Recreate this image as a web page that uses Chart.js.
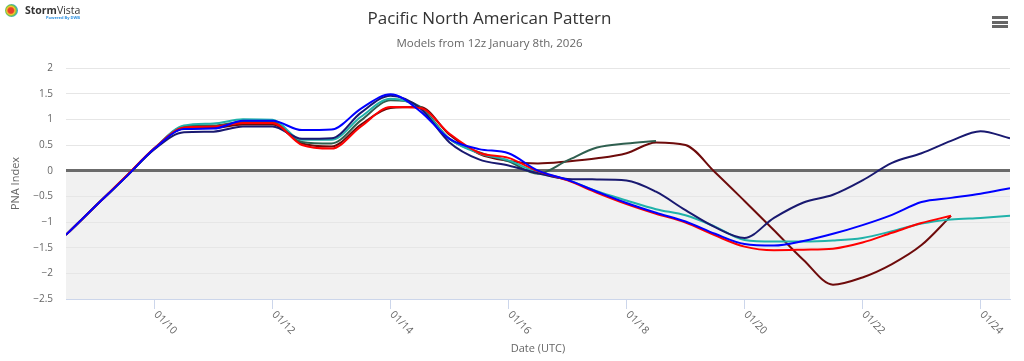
<!DOCTYPE html>
<html lang="en">
<head>
<meta charset="UTF-8">
<title>Pacific North American Pattern</title>
<script src="https://cdn.jsdelivr.net/npm/chart.js@4.4.1/dist/chart.umd.min.js"></script>
<style>
  body { margin: 0; background: #fff; font-family: "Open Sans", sans-serif; }
  #wrap { position: relative; width: 1024px; height: 361px; overflow: hidden; }
  #pna { position: absolute; left: 0; top: 0; }
  .head { position: absolute; left: 0; width: 979px; text-align: center; white-space: nowrap; }
  #title { top: 6px; font-size: 17px; line-height: 24px; color: #333; }
  #subtitle { top: 35px; font-size: 11.5px; line-height: 16px; color: #666; }
  .globe { position: absolute; left: 5px; top: 4px; width: 13px; height: 13px; border-radius: 50%;
           background: radial-gradient(circle at 45% 50%, #e8402a 0, #e8402a 28%, #f7c531 42%, #7cc443 55%, #2fa6de 72%, #1c4fa8 100%); }
  .brand { position: absolute; left: 25px; top: 3px; font-size: 10.5px; line-height: 14px; color: #333; }
  .brand b { font-weight: 700; }
  .powered { position: absolute; left: 46px; top: 15px; font-size: 4px; line-height: 5px; color: #2b8fe0; font-weight: 700; }
  .bar { position: absolute; left: 992px; width: 16px; height: 3px; background: #666; }
</style>
</head>
<body>
<div id="wrap">
  <canvas id="pna" width="1024" height="361"></canvas>
  <div id="title" class="head">Pacific North American Pattern</div>
  <div id="subtitle" class="head">Models from 12z January 8th, 2026</div>
  <span class="globe"></span>
  <span class="brand"><b>Storm</b>Vista</span>
  <span class="powered">Powered By DWB</span>
  <span class="bar" style="top:16px"></span>
  <span class="bar" style="top:21px"></span>
  <span class="bar" style="top:25px"></span>
</div>
<script>
// days of January 2026 (12 hourly, from 12z Jan 8th)
const days = [8.5, 9, 9.5, 10, 10.5, 11, 11.5, 12, 12.5, 13, 13.5, 14, 14.5, 15, 15.5, 16, 16.5,
              17, 17.5, 18, 18.5, 19, 19.5, 20, 20.5, 21, 21.5, 22, 22.5, 23, 23.5, 24, 24.5];
const tickDays = [10, 12, 14, 16, 18, 20, 22, 24];
const tickLabels = ["01/10", "01/12", "01/14", "01/16", "01/18", "01/20", "01/22", "01/24"];

const blueRun = [-1.25, -0.69, -0.14, 0.43, 0.81, 0.82, 0.97, 0.97, 0.79, 0.80,
                 1.21, 1.49, 1.16, 0.62, 0.42, 0.34, 0.00, -0.18, -0.41, -0.63,
                 -0.82, -0.99, -1.23, -1.43, -1.46, -1.37, -1.23, -1.06, -0.86, -0.61,
                 -0.53, -0.45, -0.34];
const redRun = [-1.25, -0.69, -0.13, 0.44, 0.84, 0.86, 0.93, 0.93, 0.50, 0.43,
                0.86, 1.24, 1.22, 0.72, 0.35, 0.25, -0.01, -0.19, -0.43, -0.65,
                -0.84, -1.01, -1.26, -1.48, -1.55, -1.54, -1.52, -1.40, -1.21, -1.02,
                -0.88];
const navyRun = [-1.25, -0.69, -0.14, 0.42, 0.75, 0.76, 0.86, 0.86, 0.62, 0.63,
                 1.13, 1.46, 1.22, 0.55, 0.22, 0.10, -0.05, -0.16, -0.17, -0.19,
                 -0.41, -0.77, -1.10, -1.31, -0.92, -0.62, -0.47, -0.19, 0.15, 0.34,
                 0.58, 0.77, 0.63];
const tealRun = [-1.25, -0.69, -0.14, 0.44, 0.88, 0.92, 1.00, 0.99, 0.60, 0.60,
                 1.05, 1.40, 1.22, 0.62, 0.34, 0.20, -0.04, -0.18, -0.40, -0.58,
                 -0.75, -0.87, -1.09, -1.35, -1.38, -1.38, -1.36, -1.31, -1.18, -1.03,
                 -0.95, -0.92, -0.88];
const greenRun = [-1.25, -0.69, -0.14, 0.43, 0.86, 0.88, 0.95, 0.95, 0.56, 0.53,
                  0.98, 1.37, 1.25, 0.62, 0.36, 0.18, -0.06, 0.20, 0.45, 0.53,
                  0.58];
const maroonRun = [-1.25, -0.69, -0.13, 0.43, 0.82, 0.83, 0.90, 0.90, 0.53, 0.47,
                   0.90, 1.22, 1.24, 0.70, 0.33, 0.19, 0.14, 0.18, 0.24, 0.34,
                   0.55, 0.50, -0.03, -0.59, -1.16, -1.74, -2.22, -2.08, -1.82, -1.45,
                   -0.88];

// first in the list is drawn on top
const runs = [
  { name: "Blue", color: "#0000ff", values: blueRun },
  { name: "Red", color: "#ff0000", values: redRun },
  { name: "Navy", color: "#191970", values: navyRun },
  { name: "Teal", color: "#20b2aa", values: tealRun },
  { name: "Green", color: "#2f5f4f", values: greenRun },
  { name: "Maroon", color: "#6e0b0b", values: maroonRun }
];

const fontFamily = '"Open Sans", sans-serif';

// grey band below zero, drawn under the grid
const negativeBand = {
  id: "negativeBand",
  beforeDraw(chart) {
    const y = chart.scales.y;
    const area = chart.chartArea;
    const ctx = chart.ctx;
    const top = y.getPixelForValue(0);
    ctx.save();
    ctx.fillStyle = "#f1f1f1";
    ctx.fillRect(area.left, top, area.right - area.left, area.bottom - top);
    ctx.restore();
  }
};

// date labels turned 45 degrees, starting at the tick
const dateLabels = {
  id: "dateLabels",
  afterDraw(chart) {
    const scale = chart.scales.x;
    const ctx = chart.ctx;
    ctx.save();
    ctx.fillStyle = "#666";
    ctx.font = "10.5px " + fontFamily;
    ctx.textAlign = "left";
    ctx.textBaseline = "middle";
    scale.ticks.forEach(function (tick, i) {
      const px = scale.getPixelForValue(tick.value);
      ctx.save();
      ctx.translate(px + 1, scale.top + 14);
      ctx.rotate(Math.PI / 4);
      ctx.fillText(tickLabels[i], 0, 0);
      ctx.restore();
    });
    ctx.restore();
  }
};

const ctx = document.getElementById("pna").getContext("2d");
const pnaChart = new Chart(ctx, {
  type: "line",
  data: {
    datasets: runs.map(function (r) {
      return {
        label: r.name,
        data: r.values.map(function (v, i) { return { x: days[i], y: v }; }),
        borderColor: r.color,
        backgroundColor: r.color,
        borderWidth: 2,
        pointRadius: 0,
        fill: false,
        cubicInterpolationMode: "monotone"
      };
    })
  },
  options: {
    responsive: false,
    animation: false,
    layout: { padding: { top: 68, right: 14, bottom: 0, left: 0 } },
    plugins: {
      legend: { display: false },
      tooltip: { enabled: false }
    },
    scales: {
      x: {
        type: "linear",
        min: 8.5,
        max: 24.5,
        afterBuildTicks: function (s) { s.ticks = tickDays.map(function (v) { return { value: v }; }); },
        afterFit: function (s) { s.height = 62; },
        ticks: { display: false },
        grid: { drawOnChartArea: false, drawTicks: true, tickLength: 10, color: "#ccd6eb" },
        border: { color: "#ccd6eb" },
        title: {
          display: true,
          text: "Date (UTC)",
          color: "#666",
          font: { size: 11, family: fontFamily },
          padding: { top: 0, bottom: 6 }
        }
      },
      y: {
        min: -2.5,
        max: 2,
        afterFit: function (s) { s.width = 66; },
        ticks: {
          stepSize: 0.5,
          padding: 13,
          color: "#666",
          font: { size: 10, family: fontFamily },
          callback: function (v) { return String(v).replace("-", "\u2212"); }
        },
        grid: {
          drawTicks: false,
          color: function (c) {
            if (c.tick.value === 0) return "#6b6b6b";
            if (c.tick.value === -2.5) return "#ccd6eb";
            return "#e6e6e6";
          },
          lineWidth: function (c) { return c.tick.value === 0 ? 3 : 1; }
        },
        border: { display: false },
        title: {
          display: true,
          text: "PNA Index",
          color: "#666",
          font: { size: 11, family: fontFamily },
          padding: { top: 9, bottom: 0 }
        }
      }
    }
  },
  plugins: [negativeBand, dateLabels]
});
</script>
</body>
</html>
